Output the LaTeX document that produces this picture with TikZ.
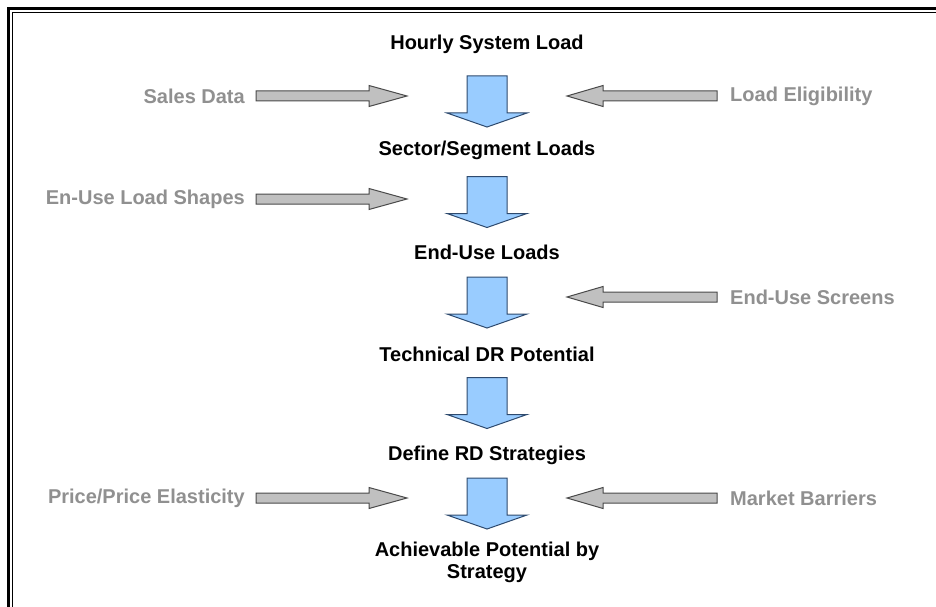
\documentclass[tikz,border=0pt]{standalone}
\usepackage{fontspec}
\setmainfont{Liberation Sans}
\definecolor{blueF}{HTML}{99CCFF}
\definecolor{blueD}{HTML}{2E4A6E}
\definecolor{grayF}{HTML}{C0C0C0}
\definecolor{grayD}{HTML}{4A4A4A}
\definecolor{grayT}{HTML}{909090}
\tikzset{
  stage/.style={font=\bfseries\fontsize{20}{22}\selectfont, text=black, align=center, inner sep=0pt},
  inlabel/.style={font=\bfseries\fontsize{20}{22}\selectfont, text=grayT, inner sep=0pt},
  bluearr/.style={fill=blueF, draw=blueD, line width=1pt, line join=miter},
  grayarr/.style={fill=grayF, draw=grayD, line width=1pt, line join=miter}
}
% blue down arrow: #1 centre x, #2 top y
\newcommand{\bluedown}[2]{%
  \draw[bluearr] ({#1-20},{#2}) -- ({#1+20},{#2}) -- ({#1+20},{#2+37}) -- ({#1+40},{#2+37})
    -- ({#1},{#2+51}) -- ({#1-40},{#2+37}) -- ({#1-20},{#2+37}) -- cycle;}
% gray right arrow: #1 left x, #2 centre y
\newcommand{\grayright}[2]{%
  \draw[grayarr] ({#1},{#2-5}) -- ({#1+113},{#2-5}) -- ({#1+113},{#2-10.5}) -- ({#1+151},{#2})
    -- ({#1+113},{#2+10.5}) -- ({#1+113},{#2+5}) -- ({#1},{#2+5}) -- cycle;}
% gray left arrow: #1 right x, #2 centre y
\newcommand{\grayleft}[2]{%
  \draw[grayarr] ({#1},{#2-5}) -- ({#1-114},{#2-5}) -- ({#1-114},{#2-10.5}) -- ({#1-150},{#2})
    -- ({#1-114},{#2+10.5}) -- ({#1-114},{#2+5}) -- ({#1},{#2+5}) -- cycle;}
\begin{document}
\begin{tikzpicture}[x=1pt,y=-1pt]
\useasboundingbox (0,0) rectangle (936,607);
\clip (0,0) rectangle (936,607);
\fill[white] (0,0) rectangle (936,607);
% double border
\draw[line width=3.3pt, line join=miter] (8.6,650) -- (8.6,8.6) -- (990,8.6);
\draw[line width=1.3pt, line join=miter] (12.6,650) -- (12.6,12.6) -- (990,12.6);

% stages
\node[stage] (s1) at (487,44) {Hourly System Load};
\node[stage] (s2) at (487,150) {Sector/Segment Loads};
\node[stage] (s3) at (487,252) {End-Use Loads};
\node[stage] (s4) at (487,354) {Technical DR Potential};
\node[stage] (s5) at (487,455) {Define RD Strategies};
\node[stage] (s6) at (487,562) {Achievable Potential by\\Strategy};

% blue flow arrows
\bluedown{487}{76}
\bluedown{487}{176.5}
\bluedown{487}{277}
\bluedown{487}{377.5}
\bluedown{487}{478}

% side inputs
\node[inlabel, anchor=east] (l1) at (245,96) {Sales Data};
\grayright{256}{96}
\node[inlabel, anchor=west] (r1) at (730,96) {Load Eligibility};
\grayleft{717}{96}

\node[inlabel, anchor=east] (l2) at (245,199) {En-Use Load Shapes};
\grayright{256}{199}

\node[inlabel, anchor=west] (r3) at (730,297) {End-Use Screens};
\grayleft{717}{297}

\node[inlabel, anchor=east] (l5) at (245,498) {Price/Price Elasticity};
\grayright{256}{498}
\node[inlabel, anchor=west] (r5) at (730,498) {Market Barriers};
\grayleft{717}{498}
\end{tikzpicture}
\end{document}
